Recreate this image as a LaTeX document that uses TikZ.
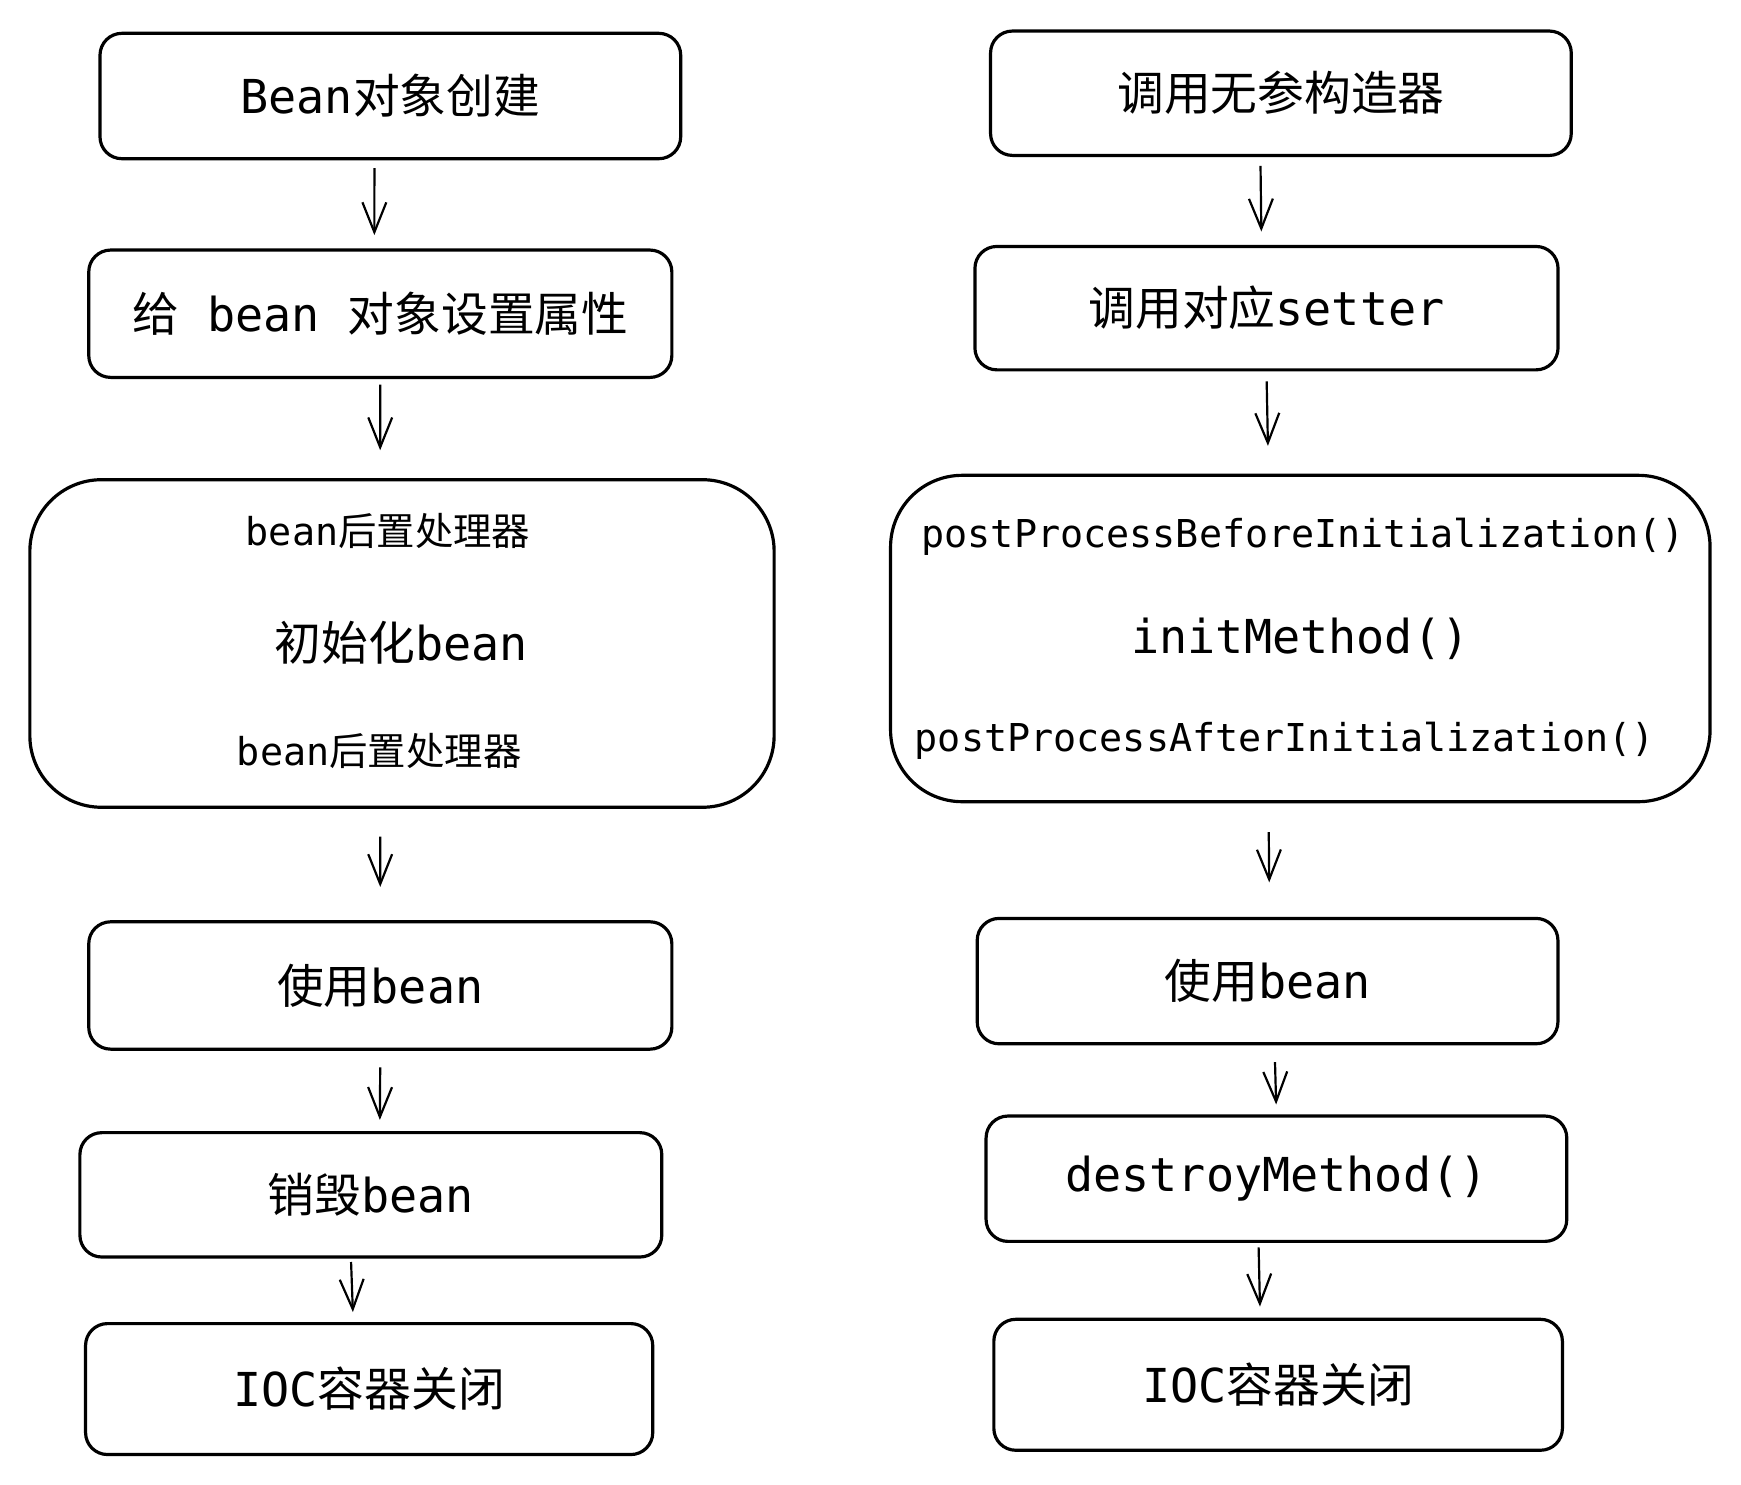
\documentclass[tikz,border=0pt]{standalone}
\usepackage{fontspec}
\setmonofont{DejaVu Sans Mono}
\newfontfamily\cjk{Noto Sans CJK SC}
\usetikzlibrary{arrows.meta}

\tikzset{
    stepbox/.style={draw, line width=1.6pt, rounded corners=11pt, inner sep=0pt,
        font=\ttfamily\fontsize{23.5}{28}\selectfont},
    bigbox/.style={draw, line width=1.6pt, rounded corners=36pt, inner sep=0pt},
    bigtxt/.style={inner sep=0pt, font=\ttfamily\fontsize{23.5}{28}\selectfont},
    smalltxt/.style={inner sep=0pt, font=\ttfamily\fontsize{19.3}{23}\selectfont},
    flow/.style={-{Straight Barb[length=15pt,width=12pt]}, line width=1.1pt}
}

\begin{document}
\begin{tikzpicture}[x=0.5pt, y=-0.5pt]
                \useasboundingbox (0,0) rectangle (1749.7,1491.5);

                \node[stepbox, minimum width=291.8pt, minimum height=63pt] (create) at (392.3,96.5) {Bean{\cjk 对象创建}};
                \node[stepbox, minimum width=293pt, minimum height=64pt] (props) at (382.2,315.3) {{\cjk 给} bean {\cjk 对象设置属性}};
                \node[bigbox, minimum width=374pt, minimum height=164.6pt] (init) at (404,646.7) {};
                \node[smalltxt] (pre) at (390,533.4) {bean{\cjk 后置处理器}};
                \node[bigtxt] (initb) at (403.4,646) {{\cjk 初始化}bean};
                \node[smalltxt] (post) at (381.1,754.4) {bean{\cjk 后置处理器}};
                \node[stepbox, minimum width=293pt, minimum height=64pt] (use) at (382.2,990.4) {{\cjk 使用}bean};
                \node[stepbox, minimum width=292.4pt, minimum height=62.5pt] (destroy) at (372.7,1200.8) {{\cjk 销毁}bean};
                \node[stepbox, minimum width=285pt, minimum height=65.8pt] (close) at (371,1396) {IOC{\cjk 容器关闭}};

                \draw[flow, shorten <=3.9pt, shorten >=6.7pt] ([xshift=-8pt]create.south) -- ([xshift=-3pt]props.north);
                \draw[flow, shorten <=2.8pt, shorten >=14pt] (props.south) -- ([xshift=-11pt]init.north);
                \draw[flow, shorten <=14pt, shorten >=16.7pt] ([xshift=-11pt]init.south) -- (use.north);
                \draw[flow, shorten <=8.4pt, shorten >=5.6pt] (use.south) -- ([xshift=4.5pt]destroy.north);
                \draw[flow, shorten <=1.7pt, shorten >=5pt] ([xshift=-10pt]destroy.south) -- ([xshift=-8pt]close.north);

                \node[stepbox, minimum width=291.8pt, minimum height=62.5pt] (noarg) at (1287.3,93.7) {{\cjk 调用无参构造器}};
                \node[stepbox, minimum width=293pt, minimum height=62pt] (setter) at (1272.8,309.7) {{\cjk 调用对应}setter};
                \node[bigbox, minimum width=411.8pt, minimum height=164pt] (initm) at (1306.8,641.7) {};
                \node[smalltxt] (before) at (1309.6,539) {postProcessBeforeInitialization()};
                \node[bigtxt] (initcall) at (1306.9,641.7) {initMethod()};
                \node[smalltxt] (after) at (1291.2,744.4) {postProcessAfterInitialization()};
                \node[stepbox, minimum width=291.8pt, minimum height=63pt] (useb) at (1273.9,986) {{\cjk 使用}bean};
                \node[stepbox, minimum width=291.8pt, minimum height=63pt] (destroym) at (1282.8,1184.6) {destroyMethod()};
                \node[stepbox, minimum width=285.7pt, minimum height=65.8pt] (closeb) at (1284.5,1391.7) {IOC{\cjk 容器关闭}};

                \draw[flow, shorten <=4.5pt, shorten >=6.7pt] ([xshift=-10.3pt]noarg.south) -- ([xshift=-2.5pt]setter.north);
                \draw[flow, shorten <=5pt, shorten >=14pt] (setter.south) -- ([xshift=-16pt]initm.north);
                \draw[flow, shorten <=14.5pt, shorten >=17.3pt] ([xshift=-16pt]initm.south) -- ([xshift=1pt]useb.north);
                \draw[flow, shorten <=8.4pt, shorten >=5pt] ([xshift=3.5pt]useb.south) -- (destroym.north);
                \draw[flow, shorten <=2.2pt, shorten >=5.6pt] ([xshift=-9pt]destroym.south) -- ([xshift=-9pt]closeb.north);
\end{tikzpicture}
\end{document}
